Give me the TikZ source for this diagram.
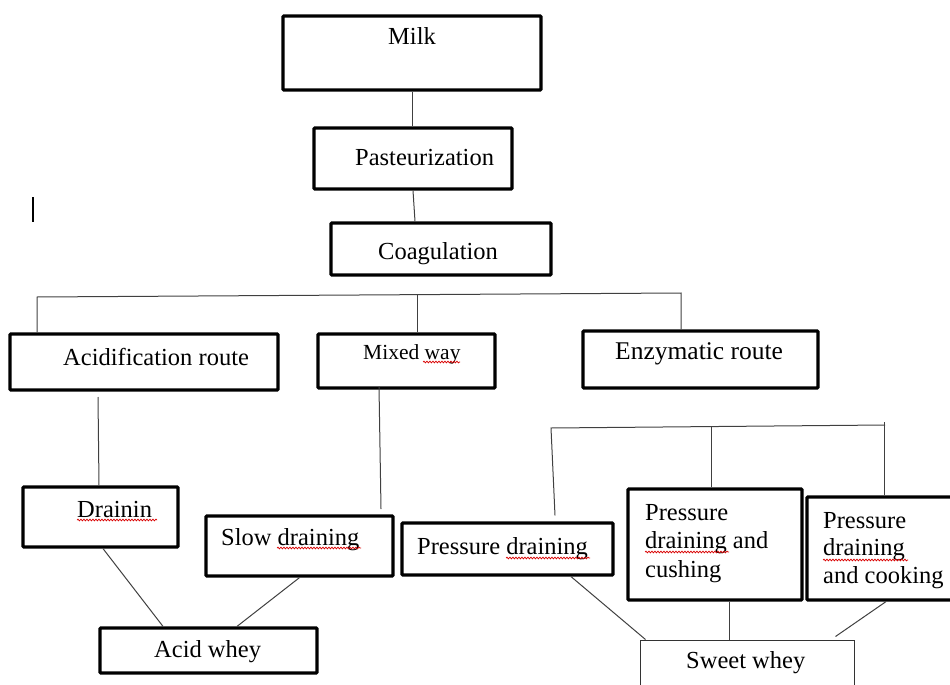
\documentclass[tikz,border=0pt]{standalone}
\usepackage{fontspec}
\setmainfont{Liberation Serif}
\usetikzlibrary{calc,decorations.pathmorphing}
\begin{document}
\begin{tikzpicture}[x=1pt,y=-1pt,
  box/.style={draw=black, line width=3.2pt, rounded corners=0.8pt, inner sep=0pt},
  thinbox/.style={draw=black!80, line width=1pt, inner sep=0pt},
  txt/.style={inner sep=0pt, anchor=base west, align=left, font=\fontsize{24.5}{28.5}\selectfont},
  smalltxt/.style={txt, font=\fontsize{21.5}{26}\selectfont},
  conn/.style={draw=black!75, line width=1pt},
  squig/.style={draw=red!85!black, line width=0.7pt, decorate, decoration={snake, amplitude=0.9pt, segment length=3pt}}
]
\useasboundingbox (0,0) rectangle (950,685);

% boxes
\node[box, minimum width=258pt, minimum height=74pt] (milk) at (412,53) {};
\node[box, minimum width=198pt, minimum height=61pt] (past) at (413,158.5) {};
\node[box, minimum width=220pt, minimum height=52pt] (coag) at (441,249) {};
\node[box, minimum width=268pt, minimum height=56pt] (acid) at (144,362) {};
\node[box, minimum width=177pt, minimum height=54pt] (mixed) at (406.5,361) {};
\node[box, minimum width=235pt, minimum height=57pt] (enz) at (700.5,359.5) {};
\node[box, minimum width=155pt, minimum height=60pt] (drain) at (100.5,517) {};
\node[box, minimum width=187pt, minimum height=60pt] (slow) at (299.5,546) {};
\node[box, minimum width=217pt, minimum height=45pt] (aw) at (208.5,650.5) {};
\node[box, minimum width=211pt, minimum height=52pt] (pd) at (507.5,549) {};
\node[box, minimum width=174pt, minimum height=111pt] (pdc) at (715,544.5) {};
\node[box, minimum width=153pt, minimum height=103pt] (pdk) at (883.5,548.5) {};
\node[thinbox, minimum width=214pt, minimum height=60pt] (sw) at (747,670) {};

% texts
\node[txt] (milkT) at (388,45) {Milk};
\node[txt] (pastT) at (355,165) {Pasteurization};
\node[txt] (coagT) at (378,259) {Coagulation};
\node[txt] (acidT) at (63,365) {Acidification route};
\node[smalltxt] (mixedT) at (363,359) {Mixed way};
\node[txt, font=\fontsize{25.5}{28}\selectfont] (enzT) at (615,359) {Enzymatic route};
\node[txt] (drainT) at (77,517) {Drainin};
\node[txt] (slowT) at (221,545) {Slow draining};
\node[txt] (awT) at (154,657) {Acid whey};
\node[txt] (pdT) at (417,554) {Pressure draining};
\node[txt] (pdcT) at (645,577) {Pressure\\draining and\\cushing};
\node[txt, font=\fontsize{24.5}{27.5}\selectfont] (pdkT) at (823,583) {Pressure\\draining\\and cooking};
\node[txt] (swT) at (686,668) {Sweet whey};

% spelling marks
\draw[squig] (423,362) -- (460,362);
\draw[squig] (77,520) -- (157,520);
\draw[squig] (277,548) -- (361,548);
\draw[squig] (506,558) -- (590,558);
\draw[squig] (645,552) -- (729,552);
\draw[squig] (823,560) -- (908,560);

% stray mark
\draw[black, line width=1.2pt] (33,197) -- (33,222);

% connectors
\draw[conn] (milk.south) -- (milk.south |- past.north);
\draw[conn] (past.south) -- ($(past.south |- coag.north)+(2,0)$);

\coordinate (tl) at (37,297);
\coordinate (tm) at (417,294.6);
\coordinate (tr) at (681,293);
\draw[conn] (acid.north -| tl) -- (tl) -- (tr) -- (enz.north -| tr);
\draw[conn] (tm) -- (tm |- mixed.north);

\coordinate (a1) at (98,397);
\draw[conn] (a1) -- ($(a1 |- drain.north)+(1,0)$);
\coordinate (m1) at (379,0);
\coordinate (m2) at (381,509);
\draw[conn] ($(mixed.south -| m1)+(0,-3)$) -- (m2);

\draw[conn] ($(drain.south)+(2.5,0)$) -- ($(aw.north)+(-45.5,0)$);
\draw[conn] (slow.south) -- ($(aw.north)+(28.5,0)$);

\coordinate (bl) at (551,428);
\coordinate (bm) at (711,427);
\coordinate (br) at (885,425);
\draw[conn] ($(pd.north)+(47.5,-6)$) -- (bl) -- (br);
\draw[conn] (bm) -- (bm |- pdc.north);
\draw[conn] ($(br)+(-1,-3)$) -- ($(pdk.north)+(0.5,0)$);

\draw[conn] ($(pd.south)+(63.5,0)$) -- ($(sw.north west)+(6,0)$);
\draw[conn] ($(pdc.south)+(14,0)$) -- ($(pdc.south |- sw.north)+(14,0)$);
\draw[conn] ($(pdk.south)+(2.5,0)$) -- ($(sw.north east)+(-19,-3)$);
\end{tikzpicture}
\end{document}
